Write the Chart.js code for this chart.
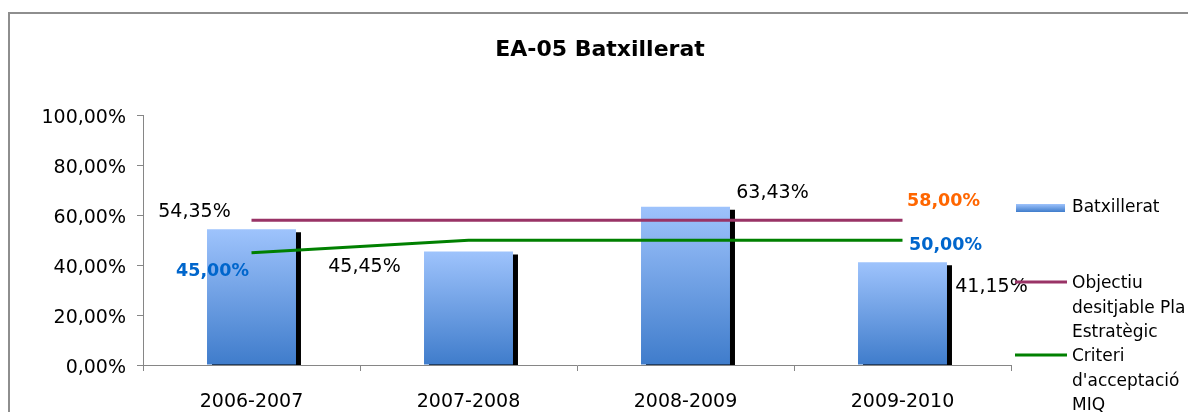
<!DOCTYPE html>
<html><head><meta charset="utf-8">
<script src="https://cdn.jsdelivr.net/npm/chart.js@4/dist/chart.umd.min.js"></script>
<style>html,body{margin:0;padding:0;background:#fff;overflow:hidden}</style>
</head><body>
<canvas id="c" width="1188" height="412"></canvas>
<script>
const chartTitle = 'EA-05 Batxillerat';
const categories = ['2006-2007', '2007-2008', '2008-2009', '2009-2010'];
const batxillerat = [54.35, 45.45, 63.43, 41.15];
const objectiu = [58, 58, 58, 58];
const criteri = [45, 50, 50, 50];
const yTicks = [0, 20, 40, 60, 80, 100];
const seriesNames = ['Batxillerat', ['Objectiu', 'desitjable Pla', 'Estratègic'], ['Criteri', "d'acceptació", 'MIQ']];

const FONT = 'DejaVu Sans';
const fmt = v => v.toFixed(2).replace('.', ',') + '%';
const PURPLE = '#993366', GREEN = '#008000';

function barGradient(ctx, top, bot) {
  const g = ctx.createLinearGradient(0, top, 0, bot);
  g.addColorStop(0, '#9EC3FC');
  g.addColorStop(1, '#3F7CCB');
  return g;
}

const framePlugin = {
  id: 'frame',
  beforeDraw(chart) {
    const c = chart.ctx;
    c.save();
    c.fillStyle = '#fff';
    c.fillRect(0, 0, chart.width, chart.height);
    c.strokeStyle = '#8E8E8E';
    c.lineWidth = 2;
    c.strokeRect(9, 13, 1400, 600);
    c.restore();
  }
};

const shadowPlugin = {
  id: 'barShadow',
  beforeDatasetDraw(chart, args) {
    if (args.index === 0) {
      const c = chart.ctx;
      const a = chart.chartArea;
      c.save();
      c.beginPath();
      c.rect(a.left, a.top - 40, a.right - a.left + 10, a.bottom - a.top + 40);
      c.clip();
      c.shadowColor = '#000';
      c.shadowOffsetX = 5;
      c.shadowOffsetY = 3;
      c.shadowBlur = 0;
    }
  },
  afterDatasetDraw(chart, args) {
    if (args.index === 0) chart.ctx.restore();
  }
};

const labelPlugin = {
  id: 'valueLabels',
  afterDatasetsDraw(chart) {
    const c = chart.ctx;
    c.save();
    c.textAlign = 'center';
    c.textBaseline = 'middle';
    const barOff = [[-57, -17], [-104, 16], [87, -14], [89, 25]];
    const m0 = chart.getDatasetMeta(0);
    c.font = '19px "' + FONT + '"';
    c.fillStyle = '#000';
    batxillerat.forEach((v, i) => {
      const el = m0.data[i];
      c.fillText(fmt(v), el.x + barOff[i][0], el.y + barOff[i][1]);
    });
    c.font = 'bold 17.5px "' + FONT + '"';
    const m1 = chart.getDatasetMeta(1), m2 = chart.getDatasetMeta(2);
    const p3 = m1.data[3];
    c.fillStyle = '#FF6600';
    c.fillText(fmt(objectiu[3]), p3.x + 41, p3.y - 19);
    c.fillStyle = '#0066CC';
    const q0 = m2.data[0], q3 = m2.data[3];
    c.fillText(fmt(criteri[0]), q0.x - 39, q0.y + 19);
    c.fillText(fmt(criteri[3]), q3.x + 43, q3.y + 5);
    c.restore();
  }
};

const legendPlugin = {
  id: 'customLegend',
  afterDraw(chart) {
    const c = chart.ctx;
    const x0 = chart.chartArea.right + 4;
    const tx = x0 + 57;
    const lh = 24.5;
    c.save();
    c.font = '17px "' + FONT + '"';
    c.textAlign = 'left';
    c.textBaseline = 'middle';
    c.fillStyle = barGradient(c, 204, 212);
    c.fillRect(x0 + 1, 204, 49, 8);
    c.fillStyle = '#000';
    c.fillText(seriesNames[0], tx, 208);
    c.strokeStyle = PURPLE; c.lineWidth = 3;
    c.beginPath(); c.moveTo(x0, 282); c.lineTo(x0 + 52, 282); c.stroke();
    seriesNames[1].forEach((t, k) => c.fillText(t, tx, 284 + k * lh));
    c.strokeStyle = GREEN;
    c.beginPath(); c.moveTo(x0, 355); c.lineTo(x0 + 52, 355); c.stroke();
    seriesNames[2].forEach((t, k) => c.fillText(t, tx, 357 + k * lh));
    c.restore();
  }
};

new Chart(document.getElementById('c'), {
  data: {
    labels: categories,
    datasets: [
      {
        type: 'bar',
        label: 'Batxillerat',
        data: batxillerat,
        order: 2,
        clip: 0,
        barPercentage: 0.41,
        categoryPercentage: 1,
        backgroundColor: (ctx) => {
          const chart = ctx.chart;
          if (!chart.chartArea || ctx.type !== 'data') return '#79A6EA';
          const ys = chart.scales.y;
          return barGradient(chart.ctx, ys.getPixelForValue(ctx.raw), ys.getPixelForValue(0));
        },
        borderWidth: 0
      },
      {
        type: 'line',
        label: 'Objectiu desitjable Pla Estratègic',
        data: objectiu,
        order: 1,
        borderColor: PURPLE,
        borderWidth: 3,
        pointRadius: 0,
        fill: false,
        tension: 0
      },
      {
        type: 'line',
        label: "Criteri d'acceptació MIQ",
        data: criteri,
        order: 0,
        borderColor: GREEN,
        borderWidth: 3,
        pointRadius: 0,
        fill: false,
        tension: 0
      }
    ]
  },
  options: {
    responsive: false,
    animation: false,
    devicePixelRatio: 1,
    layout: { padding: { left: 12, right: 0, top: 0, bottom: 0 } },
    plugins: {
      legend: { display: false },
      tooltip: { enabled: false },
      title: {
        display: true,
        text: chartTitle,
        color: '#000',
        font: { family: FONT, size: 22, weight: 'bold' },
        padding: { top: 37, bottom: 52 }
      }
    },
    scales: {
      x: {
        z: 1,
        offset: true,
        grid: { offset: true, drawOnChartArea: false, tickLength: 6, color: '#868686' },
        border: { color: '#868686' },
        ticks: { color: '#000', font: { family: FONT, size: 19 }, padding: 20, maxRotation: 0 },
        afterFit(s) { s.height = 47; }
      },
      y: {
        min: 0, max: 100,
        afterBuildTicks(s) { s.ticks = yTicks.map(v => ({ value: v })); },
        grid: { drawOnChartArea: false, tickLength: 6, color: '#868686' },
        border: { color: '#868686' },
        ticks: { color: '#000', font: { family: FONT, size: 19 }, padding: 11, labelOffset: 3, callback: v => fmt(v) },
        afterFit(s) { s.width = 131; }
      },
      yr: {
        position: 'right',
        display: true,
        grid: { display: false, drawTicks: false },
        border: { display: false },
        ticks: { display: false },
        afterFit(s) { s.width = 177; }
      }
    }
  },
  plugins: [framePlugin, shadowPlugin, labelPlugin, legendPlugin]
});
</script>
</body></html>
